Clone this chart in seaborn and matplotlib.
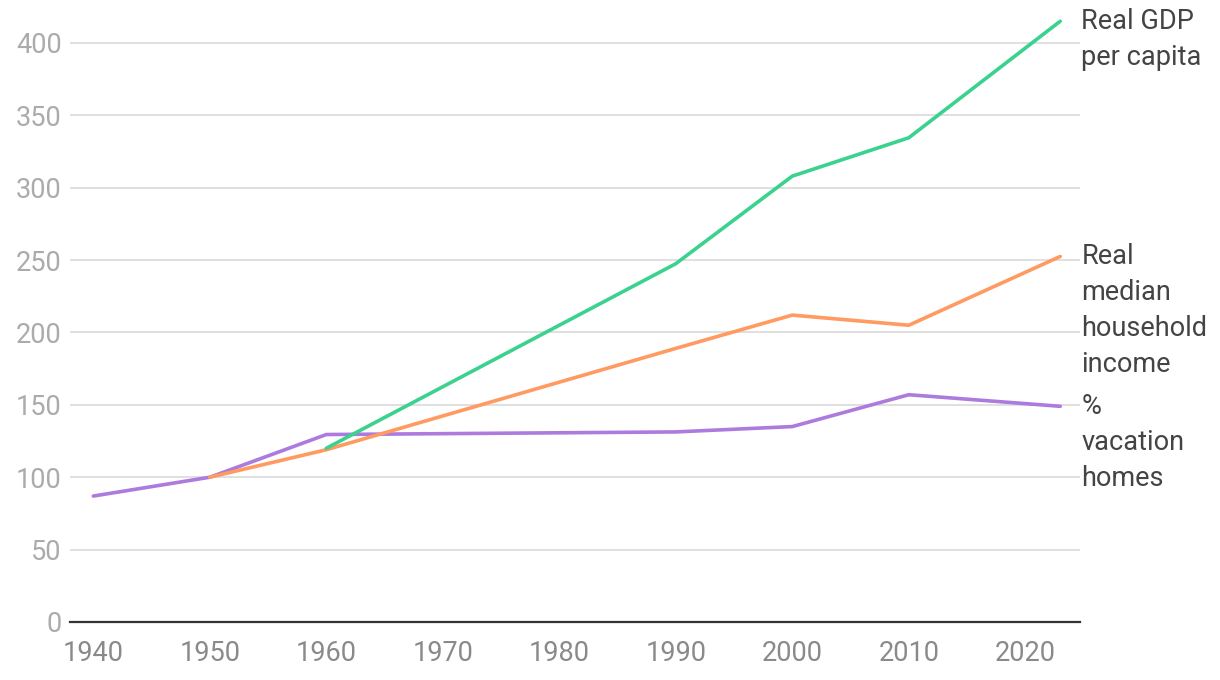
import numpy as np
import pandas as pd
import matplotlib
matplotlib.use("Agg")
import matplotlib.pyplot as plt
import matplotlib.transforms as mtransforms
import seaborn as sns

# Data (index, 1950 = 100)
gdp_years = [1960, 1990, 2000, 2010, 2023]
gdp_values = [120, 247.5, 308, 334.5, 415]

income_years = [1950, 1960, 1990, 2000, 2010, 2023]
income_values = [100, 119, 189, 212, 205, 252.5]

vacation_years = [1940, 1950, 1960, 1990, 2000, 2010, 2023]
vacation_values = [87, 100, 129.5, 131.3, 135, 157, 149]

series_names = ["Real GDP per capita", "Real median household income", "% vacation homes"]
series_labels = [["Real GDP", "per capita"],
                 ["Real", "median", "household", "income"],
                 ["%", "vacation", "homes"]]
series_colors = ["#3ad28e", "#ff9a60", "#ad7ade"]

x_ticks = [1940, 1950, 1960, 1970, 1980, 1990, 2000, 2010, 2020]
y_ticks = [0, 50, 100, 150, 200, 250, 300, 350, 400]

df = pd.concat([
    pd.DataFrame({"year": gdp_years, "value": gdp_values, "series": series_names[0]}),
    pd.DataFrame({"year": income_years, "value": income_values, "series": series_names[1]}),
    pd.DataFrame({"year": vacation_years, "value": vacation_values, "series": series_names[2]}),
], ignore_index=True)

sns.set_theme(style="white")
plt.rcParams['font.family'] = ['Roboto', 'DejaVu Sans']

W, H = 1220, 680
fig = plt.figure(figsize=(W / 100, H / 100), dpi=100)
ax = fig.add_axes([70 / W, 1 - 622 / H, (1080 - 70) / W, (622 - 14) / H])

ax.set_ylim(0, 420)
ax.set_xlim(1938.0, 2024.7)

for yv in y_ticks[1:]:
    ax.axhline(yv, color="#dddddd", lw=1.3, zorder=0)

palette = dict(zip(series_names, series_colors))
sns.lineplot(data=df, x="year", y="value", hue="series", palette=palette,
             hue_order=[series_names[2], series_names[1], series_names[0]],
             linewidth=2.6, legend=False, ax=ax, zorder=3)

for sp in ["top", "right", "left"]:
    ax.spines[sp].set_visible(False)
ax.spines["bottom"].set_color("#333333")
ax.spines["bottom"].set_linewidth(1.6)
ax.spines["bottom"].set_zorder(4)

ax.set_xticks(x_ticks)
ax.set_xticklabels([str(t) for t in x_ticks])
ax.set_yticks(y_ticks)
ax.set_yticklabels([str(t) for t in y_ticks])
ax.tick_params(axis="x", length=0, pad=13, labelsize=19.5, labelcolor="#8a8a8a")
ax.tick_params(axis="y", length=0, pad=6, labelsize=19.5, labelcolor="#ababab")
for lbl in ax.get_yticklabels():
    lbl.set_horizontalalignment("right")
ax.set_xlabel("")
ax.set_ylabel("")
ax.grid(False)

trans = mtransforms.blended_transform_factory(ax.transAxes, ax.transData)
end_values = [gdp_values[-1], income_values[-1], vacation_values[-1]]
for lines, yv in zip(series_labels, end_values):
    for i, line in enumerate(lines):
        ax.annotate(line, xy=(1.0, yv), xycoords=trans,
                    xytext=(1, -i * 25.9), textcoords="offset points",
                    ha="left", va="center", fontsize=19.5, color="#444444",
                    annotation_clip=False)

fig.savefig("out.png", dpi=100, facecolor="white")
